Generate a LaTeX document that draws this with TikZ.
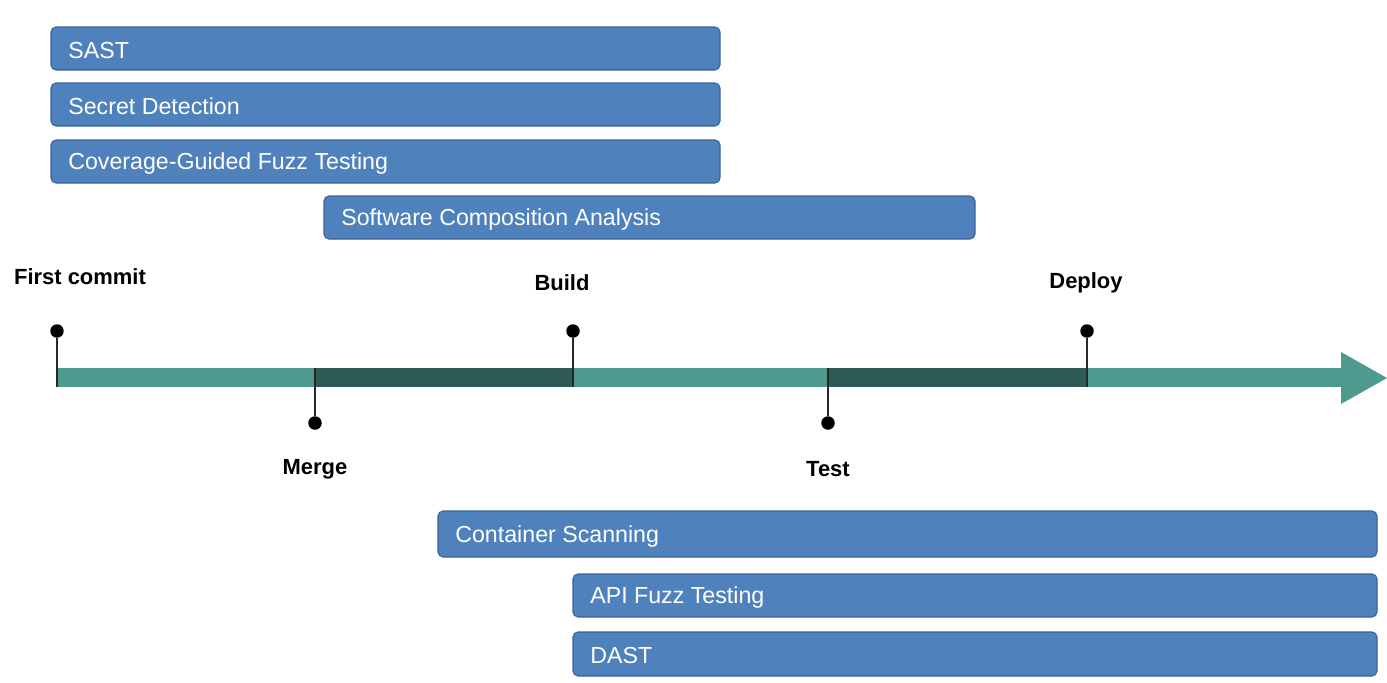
\documentclass[tikz,border=0pt]{standalone}
\usepackage{fontspec}
\setmainfont{Liberation Sans}
\usepackage{tikz}
\usetikzlibrary{positioning, calc}
\usepackage{xcolor}
\definecolor{barblue}{RGB}{79, 129, 189}
\definecolor{barline}{RGB}{56, 98, 152}
\definecolor{lineteal}{RGB}{78, 154, 143}
\definecolor{linedark}{RGB}{46, 91, 85}
\definecolor{stemgray}{RGB}{40, 40, 40}

\begin{document}
\begin{tikzpicture}[x=0.02cm, y=-0.02cm,
    scanbar/.style={fill=barblue, draw=barline, line width=0.6pt, rounded corners=0.1cm},
    scanlabel/.style={anchor=west, text=white, font=\fontsize{13.2}{15}\selectfont, inner sep=0pt},
    stagedot/.style={circle, fill=black, inner sep=0pt, minimum size=0.27cm},
    stagelabel/.style={font=\fontsize{12.5}{15}\selectfont\bfseries, inner sep=0pt},
    stem/.style={draw=stemgray, line width=0.9pt}]
                \useasboundingbox (0,0) rectangle (1387,683);
                % Scans
                \foreach \name/\xa/\ya/\xb/\yb/\txt in {sast/51/27/720/70/SAST, secret/51/83/720/126/Secret Detection, cgfuzz/51/140/720/183/Coverage-Guided Fuzz Testing, sca/324/196/975/239/Software Composition Analysis, container/438/511/1377/557/Container Scanning, apifuzz/573/574/1377/617/API Fuzz Testing, dast/573/632/1377/676/DAST} {
                    \draw[scanbar] (\xa,\ya) rectangle (\xb,\yb);
                    \node[scanlabel] (\name) at (\xa+17,{(\ya+\yb)/2+2}) {\txt};
                }
                % Timeline
                \fill[lineteal] (57,368) rectangle (1342,387);
                \fill[linedark] (315,368) rectangle (573,387);
                \fill[linedark] (828,368) rectangle (1087,387);
                \fill[lineteal] (1341,352) -- (1387,378) -- (1341,404) -- cycle;
                % Stages
                \foreach \x/\y/\yy/\name in {57/331/387/commit, 315/423/368/merge, 573/331/387/build, 828/423/368/test, 1087/331/387/deploy} {
                    \node[stagedot] (\name) at (\x,\y) {};
                    \coordinate (\name end) at (\x,\yy);
                    \draw[stem] (\name) -- (\name end);
                }
                % Labels
                \node[stagelabel] (commitlabel) at (80,277) {First commit};
                \node[stagelabel] (buildlabel) at (562,283) {Build};
                \node[stagelabel] (deploylabel) at (1086,283) {Deploy};
                \node[stagelabel] (mergelabel) at (315,469) {Merge};
                \node[stagelabel] (testlabel) at (828,469) {Test};
            \end{tikzpicture}
\end{document}
